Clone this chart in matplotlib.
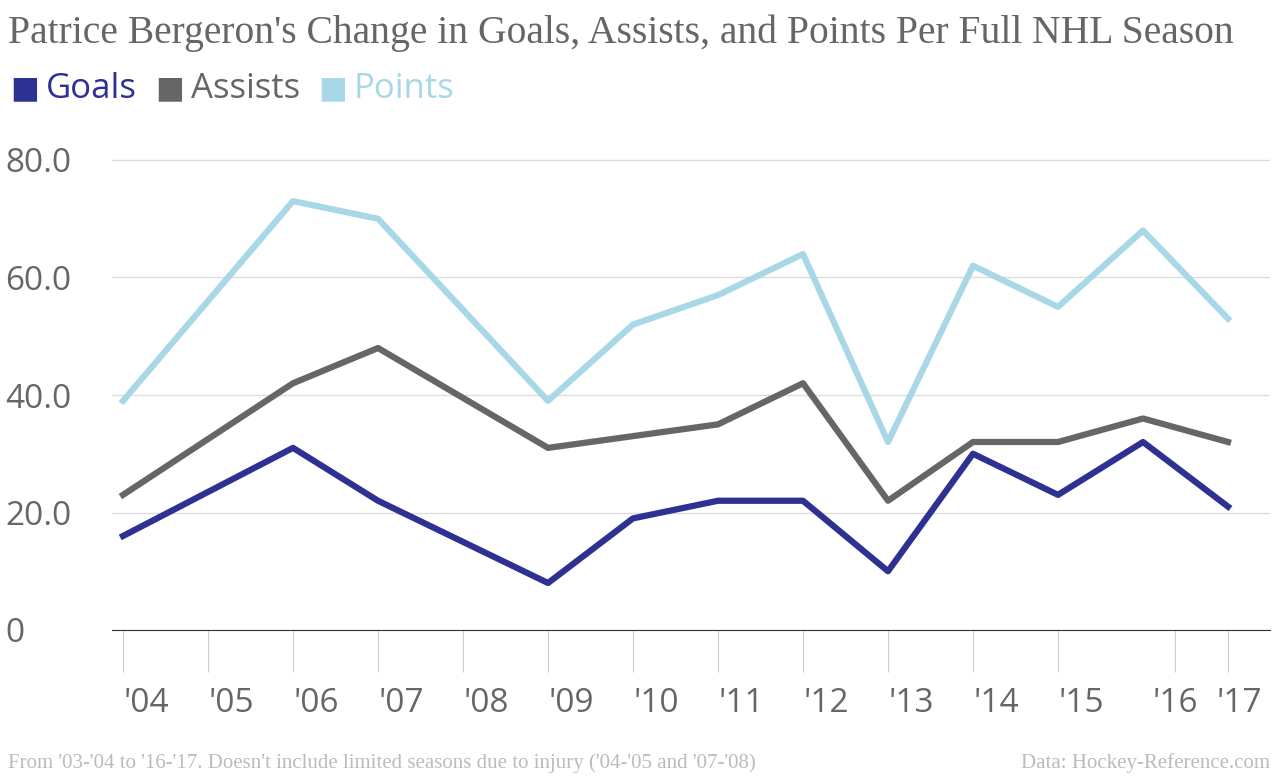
import matplotlib
matplotlib.use("Agg")
import matplotlib.pyplot as plt

seasons = [2004, 2006, 2007, 2009, 2010, 2011, 2012, 2013, 2014, 2015, 2016, 2017]
goals = [16, 31, 22, 8, 19, 22, 22, 10, 30, 23, 32, 21]
assists = [23, 42, 48, 31, 33, 35, 42, 22, 32, 32, 36, 32]
points = [39, 73, 70, 39, 52, 57, 64, 32, 62, 55, 68, 53]
tick_years = [2004, 2005, 2006, 2007, 2008, 2009, 2010, 2011, 2012, 2013, 2014, 2015, 2016.38, 2017]
tick_labels = ["'04", "'05", "'06", "'07", "'08", "'09", "'10", "'11", "'12",
               "'13", "'14", "'15", "'16", "'17"]

C_GOALS = "#2e3192"
C_ASSISTS = "#666666"
C_POINTS = "#a8d8e8"
GRAY = "#666666"

plt.rcParams['font.family'] = ['Open Sans', 'DejaVu Sans']
fig = plt.figure(figsize=(12.8, 7.76), dpi=100)
ax = fig.add_axes([112/1280, 1 - 630/776, (1270-112)/1280, (630-140)/776])

ax.plot(seasons, points, color=C_POINTS, lw=4.5)
ax.plot(seasons, assists, color=C_ASSISTS, lw=4.5)
ax.plot(seasons, goals, color=C_GOALS, lw=4.5)

ax.set_xlim(2004 - 11/85, 2004 + (1270-123)/85)
ax.set_ylim(0, 80 * 490/470)
ax.set_yticks([0, 20, 40, 60, 80])
ax.set_yticklabels(["0", "20.0", "40.0", "60.0", "80.0"], fontsize=24, color=GRAY)
ax.tick_params(axis='y', length=0)
for lab in ax.get_yticklabels():
    lab.set_horizontalalignment('left')
    lab.set_x(-102/1158)
ax.grid(axis='y', color='#dddddd', lw=1)
ax.set_xticks(tick_years)
ax.set_xticklabels([])
ax.tick_params(axis='x', length=30, color='#cccccc', direction='out')
for y, lab in zip(tick_years, tick_labels):
    off = 0.27 if y < 2016 else (0.0 if y < 2017 else 0.13)
    ax.text(y + off, -12.5, lab, ha='center', va='center', fontsize=24, color=GRAY)
for s in ['top', 'right', 'left']:
    ax.spines[s].set_visible(False)
ax.spines['bottom'].set_color('#333333')
ax.set_axisbelow(True)

fig.text(8/1280, 1 - 33/776, "Patrice Bergeron's Change in Goals, Assists, and Points Per Full NHL Season",
         family=['Liberation Serif'], fontsize=28.5, color=GRAY, va='center')
x = 10
for name, c in [("Goals", C_GOALS), ("Assists", C_ASSISTS), ("Points", C_POINTS)]:
    fig.text(x/1280, 1 - 89/776, "\u25A0", fontsize=22, color=c, va='center', family=['DejaVu Sans'])
    t = fig.text((x + 36)/1280, 1 - 89/776, name, fontsize=25, color=c, va='center')
    fig.canvas.draw()
    w = t.get_window_extent().width
    x = x + 36 + w + 18
fig.text(8/1280, 1 - 763/776,
         "From '03-'04 to '16-'17. Doesn't include limited seasons due to injury ('04-'05 and '07-'08)",
         family=['Liberation Serif'], fontsize=15, color='#bbbbbb', va='center')
fig.text(1270/1280, 1 - 763/776, "Data: Hockey-Reference.com",
         family=['Liberation Serif'], fontsize=15, color='#bbbbbb', va='center', ha='right')

fig.savefig("out.png", dpi=100)
